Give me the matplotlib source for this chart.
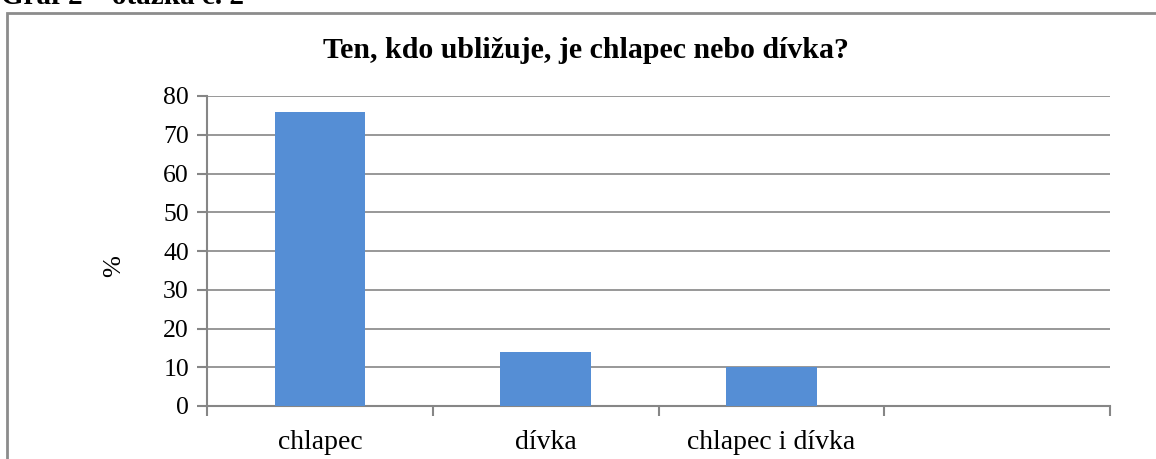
import numpy as np
import matplotlib.pyplot as plt
from matplotlib.patches import Rectangle

# Data
kategorie = ['chlapec', 'dívka', 'chlapec i dívka', '']
hodnoty = [76, 14, 10, 0]
y_ticks = [0, 10, 20, 30, 40, 50, 60, 70, 80]

SERIF = ['Liberation Serif', 'DejaVu Serif']
SEDA = '#868686'
MODRA = '#558ED5'

plt.rcParams['font.family'] = SERIF

W, H = 1156, 459
fig = plt.figure(figsize=(W / 100, H / 100), dpi=100)

# figure caption cut off at the top
fig.text(1 / W, 1 - 4 / H, 'Graf 2 – otázka č. 2', fontsize=21, fontweight='bold',
         ha='left', va='baseline')

# chart border box (runs past the right and bottom edges)
fig.patches.append(Rectangle((7 / W, -0.05), 1.1, 1.05 - 13 / H,
                             transform=fig.transFigure, fill=False,
                             edgecolor='#8c8c8c', linewidth=2))

ax = fig.add_axes([207 / W, 1 - 406 / H, (1110 - 207) / W, (406 - 96) / H])

x = np.arange(len(kategorie))
ax.bar(x[:3], hodnoty[:3], width=0.4, color=MODRA, zorder=3)

ax.set_xlim(-0.5, len(kategorie) - 0.5)
ax.set_ylim(0, 80)
ax.set_yticks(y_ticks)
ax.set_yticklabels([str(v) for v in y_ticks], fontsize=18.5)
ax.yaxis.grid(True, color=SEDA, linewidth=1.2, zorder=0)

ax.set_xticks(x)
ax.set_xticklabels(kategorie, fontsize=20)
ax.tick_params(axis='x', length=0, pad=17)
ax.set_xticks(np.arange(-0.5, len(kategorie)), minor=True)
ax.tick_params(axis='x', which='minor', length=7, color=SEDA, width=1.5)
ax.tick_params(axis='y', length=7, color=SEDA, width=1.5, pad=6)

for s in ['top', 'right']:
    ax.spines[s].set_visible(False)
for s in ['left', 'bottom']:
    ax.spines[s].set_color(SEDA)
    ax.spines[s].set_linewidth(1.5)

fig.text(114 / W, 1 - 266 / H, '%', fontsize=19, rotation=90,
         ha='center', va='center')
fig.text(586 / W, 1 - 58 / H, 'Ten, kdo ubližuje, je chlapec nebo dívka?',
         fontsize=21.5, fontweight='bold', ha='center', va='baseline')

fig.savefig('out.png', dpi=100)
